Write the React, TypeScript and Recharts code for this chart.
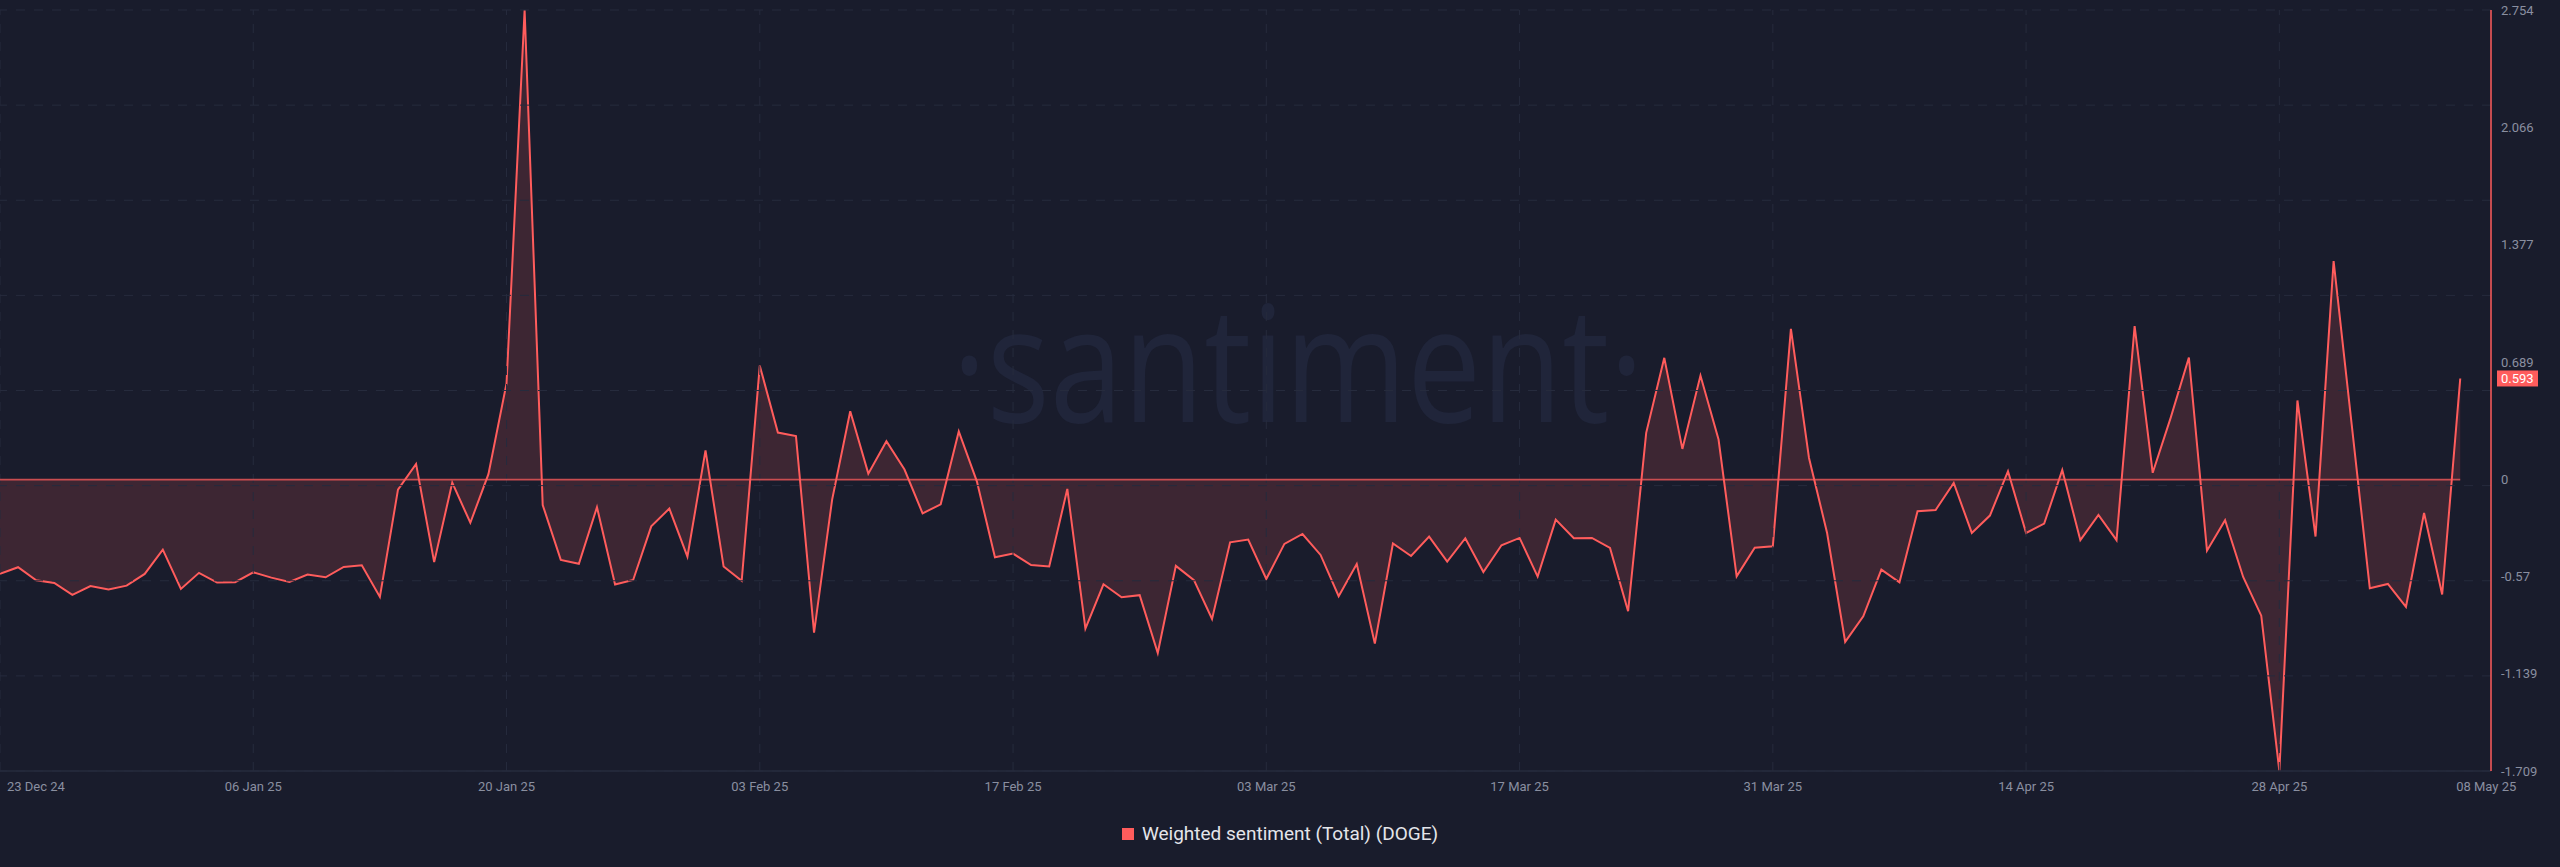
import React from 'react';
import { ComposedChart, Area, XAxis, YAxis, ReferenceLine } from 'recharts';

// daily weighted sentiment for DOGE, starting 23 Dec 2024
const sentiment = [
  -0.553, -0.514, -0.590, -0.606, -0.676, -0.624, -0.645, -0.622, -0.553, -0.411,
  -0.641, -0.547, -0.604, -0.602, -0.544, -0.575, -0.600, -0.557, -0.573, -0.512,
  -0.502, -0.688, -0.059, 0.092, -0.484, -0.018, -0.253, 0.032, 0.564, 2.754,
  -0.149, -0.471, -0.494, -0.162, -0.615, -0.589, -0.274, -0.170, -0.452, 0.171,
  -0.510, -0.594, 0.668, 0.276, 0.255, -0.897, -0.117, 0.401, 0.035, 0.225,
  0.059, -0.198, -0.145, 0.282, -0.010, -0.456, -0.434, -0.501, -0.510, -0.055,
  -0.874, -0.614, -0.690, -0.678, -1.017, -0.506, -0.590, -0.817, -0.368, -0.352,
  -0.583, -0.377, -0.319, -0.442, -0.684, -0.495, -0.962, -0.375, -0.448, -0.334,
  -0.481, -0.344, -0.542, -0.385, -0.342, -0.569, -0.235, -0.344, -0.342, -0.401,
  -0.772, 0.274, 0.714, 0.180, 0.610, 0.235, -0.567, -0.399, -0.391, 0.884,
  0.127, -0.313, -0.952, -0.802, -0.528, -0.602, -0.186, -0.178, -0.020, -0.313,
  -0.211, 0.049, -0.313, -0.258, 0.056, -0.355, -0.207, -0.355, 0.900, 0.040,
  0.365, 0.716, -0.417, -0.238, -0.571, -0.798, -1.709, 0.464, -0.334, 1.281,
  0.323, -0.637, -0.612, -0.746, -0.196, -0.674, 0.593,
];

const xTickDays = [0, 14, 28, 42, 56, 70, 84, 98, 112, 126, 136];
const xTickLabels = [
  '23 Dec 24', '06 Jan 25', '20 Jan 25', '03 Feb 25', '17 Feb 25', '03 Mar 25',
  '17 Mar 25', '31 Mar 25', '14 Apr 25', '28 Apr 25', '08 May 25',
];
const yTicks = [2.754, 2.066, 1.377, 0.689, 0, -0.57, -1.139, -1.709];

const seriesName = 'Weighted sentiment (Total) (DOGE)';

const RED = '#ff5c5c';
const BG = '#191c2c';
const GRID = '#262b3d';
const LABEL = '#8a8fa0';
const FONT = 'Roboto, "Open Sans", sans-serif';

const data = sentiment.map((value, day) => ({ day, value }));
const lastValue = sentiment[sentiment.length - 1];
const yMin = -1.709;
const yMax = 2.754;
const xMax = 137.7;
// santiment splits the height in 8 equal bands regardless of the labels
const gridValues = Array.from({ length: 9 }, (_, k) => yMax - (k * (yMax - yMin)) / 8);

const XTick = (props: any) => {
  const { x, y, payload } = props;
  const i = xTickDays.indexOf(payload.value);
  let anchor = 'middle';
  let dx = 0;
  if (i === 0) {
    anchor = 'start';
    dx = 7;
  }
  if (i === xTickDays.length - 1) dx = 26;
  return (
    <text x={x + dx} y={y} dy={12} textAnchor={anchor} fill={LABEL} fontSize={13} fontFamily={FONT}>
      {xTickLabels[i]}
    </text>
  );
};

const YTick = (props: any) => {
  const { x, y, payload } = props;
  if (payload.value === lastValue) {
    return (
      <g>
        <rect x={x - 2} y={y - 8} width={41} height={16} fill={RED} />
        <text x={x + 2} y={y} dy="0.36em" fill="#ffffff" fontSize={13} fontFamily={FONT}>
          {lastValue.toFixed(3)}
        </text>
      </g>
    );
  }
  return (
    <text x={x + 2} y={y} dy="0.36em" fill={LABEL} fontSize={13} fontFamily={FONT}>
      {String(payload.value)}
    </text>
  );
};

export default function App() {
  return (
    <div style={{ position: 'absolute', left: 0, top: 0, width: 2560, height: 867, background: BG, overflow: 'hidden' }}>
      <svg width={2560} height={867} style={{ position: 'absolute', left: 0, top: 0 }}>
        <text
          x={952}
          y={422}
          fontSize={162}
          fontFamily='"Open Sans", sans-serif'
          fill="#20253a"
          textLength={692}
          lengthAdjust="spacingAndGlyphs"
        >
          ·santiment·
        </text>
      </svg>
      <div style={{ position: 'absolute', left: 0, top: 0 }}>
        <ComposedChart width={2560} height={800} data={data} margin={{ top: 10, right: 0, bottom: 0, left: 0 }}>
          <XAxis
            dataKey="day"
            type="number"
            domain={[0, xMax]}
            ticks={xTickDays}
            interval={0}
            tick={<XTick />}
            tickLine={false}
            axisLine={{ stroke: GRID, strokeWidth: 1.5 }}
            height={29}
          />
          <YAxis
            orientation="right"
            type="number"
            domain={[yMin, yMax]}
            ticks={[...yTicks, lastValue]}
            interval={0}
            tick={<YTick />}
            tickLine={false}
            axisLine={{ stroke: RED, strokeWidth: 1.5 }}
            width={69}
            allowDataOverflow
          />
          {gridValues.map((g) => (
            <ReferenceLine key={`h${g}`} y={g} stroke={GRID} strokeDasharray="9 9" />
          ))}
          {xTickDays.slice(0, -1).map((d) => (
            <ReferenceLine key={`v${d}`} x={d} stroke={GRID} strokeDasharray="9 9" />
          ))}
          <Area
            type="linear"
            dataKey="value"
            name={seriesName}
            stroke={RED}
            strokeWidth={2}
            fill={RED}
            fillOpacity={0.16}
            baseValue={0}
            dot={false}
            activeDot={false}
            isAnimationActive={false}
          />
          <ReferenceLine
            segment={[{ x: 0, y: 0 }, { x: sentiment.length - 1, y: 0 }]}
            stroke={RED}
            strokeOpacity={0.75}
            strokeWidth={1.7}
          />
        </ComposedChart>
      </div>
      <div
        style={{
          position: 'absolute',
          left: 0,
          top: 822,
          width: 2560,
          display: 'flex',
          justifyContent: 'center',
          alignItems: 'center',
          fontFamily: FONT,
          fontSize: 19,
          color: '#e4e5ea',
        }}
      >
        <span style={{ display: 'inline-block', width: 12, height: 12, background: RED, marginRight: 8 }} />
        <span>{seriesName}</span>
      </div>
    </div>
  );
}
